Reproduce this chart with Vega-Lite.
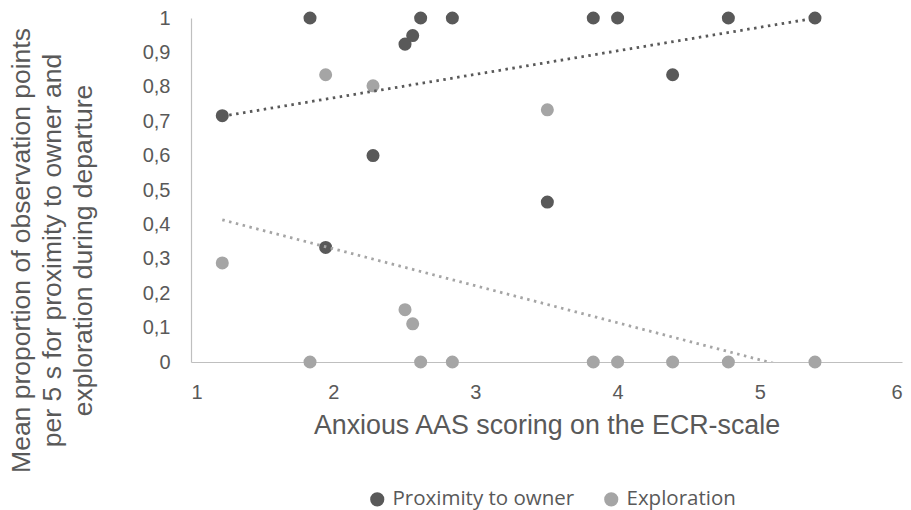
{
  "$schema": "https://vega.github.io/schema/vega-lite/v6.json",
  "width": 711,
  "height": 344,
  "autosize": {"type": "none"},
  "padding": {"left": 191, "top": 18, "right": 9, "bottom": 148},
  "background": "white",
  "config": {"view": {"stroke": null}, "font": "Liberation Sans"},
  "data": {
    "values": [
      {"score": 1.22, "value": 0.716, "series": "Proximity to owner"},
      {"score": 1.837, "value": 1.0, "series": "Proximity to owner"},
      {"score": 1.947, "value": 0.333, "series": "Proximity to owner"},
      {"score": 2.28, "value": 0.6, "series": "Proximity to owner"},
      {"score": 2.505, "value": 0.924, "series": "Proximity to owner"},
      {"score": 2.559, "value": 0.949, "series": "Proximity to owner"},
      {"score": 2.615, "value": 1.0, "series": "Proximity to owner"},
      {"score": 2.838, "value": 1.0, "series": "Proximity to owner"},
      {"score": 3.506, "value": 0.465, "series": "Proximity to owner"},
      {"score": 3.829, "value": 1.0, "series": "Proximity to owner"},
      {"score": 4.0, "value": 1.0, "series": "Proximity to owner"},
      {"score": 4.387, "value": 0.835, "series": "Proximity to owner"},
      {"score": 4.779, "value": 1.0, "series": "Proximity to owner"},
      {"score": 5.388, "value": 1.0, "series": "Proximity to owner"},
      {"score": 1.22, "value": 0.288, "series": "Exploration"},
      {"score": 1.837, "value": 0.0, "series": "Exploration"},
      {"score": 1.947, "value": 0.835, "series": "Exploration"},
      {"score": 2.28, "value": 0.803, "series": "Exploration"},
      {"score": 2.505, "value": 0.152, "series": "Exploration"},
      {"score": 2.559, "value": 0.111, "series": "Exploration"},
      {"score": 2.615, "value": 0.0, "series": "Exploration"},
      {"score": 2.838, "value": 0.0, "series": "Exploration"},
      {"score": 3.506, "value": 0.733, "series": "Exploration"},
      {"score": 3.829, "value": 0.0, "series": "Exploration"},
      {"score": 4.0, "value": 0.0, "series": "Exploration"},
      {"score": 4.387, "value": 0.0, "series": "Exploration"},
      {"score": 4.779, "value": 0.0, "series": "Exploration"},
      {"score": 5.388, "value": 0.0, "series": "Exploration"}
    ]
  },
  "encoding": {
    "x": {
      "field": "score",
      "type": "quantitative",
      "scale": {"domain": [1, 6], "nice": false, "zero": false},
      "axis": {
        "values": [1, 2, 3, 4, 5, 6],
        "title": "Anxious AAS scoring on the ECR-scale",
        "grid": false,
        "ticks": false,
        "domainColor": "#bfbfbf",
        "domainWidth": 1.2,
        "labelFontSize": 20,
        "labelColor": "#595959",
        "labelPadding": 20,
        "titleFontSize": 26.8,
        "titleFontWeight": "normal",
        "titleColor": "#595959",
        "titlePadding": 10
      }
    },
    "y": {
      "field": "value",
      "type": "quantitative",
      "scale": {"domain": [0, 1], "nice": false},
      "axis": {
        "values": [0, 0.1, 0.2, 0.3, 0.4, 0.5, 0.6, 0.7, 0.8, 0.9, 1],
        "labelExpr": "replace(format(datum.value, '.1~f'), '.', ',')",
        "title": ["Mean proportion of observation points", "per 5 s for proximity to owner and", "exploration during departure"],
        "grid": false,
        "ticks": false,
        "domainColor": "#bfbfbf",
        "domainWidth": 1.2,
        "labelFontSize": 20,
        "labelColor": "#595959",
        "labelPadding": 21,
        "titleFontSize": 26.5,
        "titleFontWeight": "normal",
        "titleColor": "#595959",
        "titleLineHeight": 31,
        "titleAngle": -90,
        "titleAlign": "center",
        "titleBaseline": "bottom",
        "titleX": -156,
        "titleY": 232
      }
    }
  },
  "layer": [
    {
      "mark": {"type": "point", "filled": true, "size": 170, "opacity": 1},
      "encoding": {
        "color": {
          "field": "series",
          "type": "nominal",
          "scale": {"domain": ["Proximity to owner", "Exploration"], "range": ["#595959", "#a5a5a5"]},
          "legend": {
            "orient": "none",
            "legendX": 176,
            "legendY": 471,
            "direction": "horizontal",
            "title": null,
            "labelFont": "Open Sans",
            "labelFontSize": 20.5,
            "labelLimit": 400,
            "labelColor": "#595959",
            "symbolType": "circle",
            "symbolSize": 200,
            "symbolStrokeWidth": 0,
            "columnPadding": 26,
            "labelOffset": 5
          }
        }
      }
    },
    {
      "transform": [{"regression": "value", "on": "score", "groupby": ["series"]}],
      "mark": {"type": "line", "clip": true, "strokeDash": [2.5, 4.5], "strokeWidth": 2.8},
      "encoding": {
        "color": {
          "field": "series",
          "type": "nominal",
          "scale": {"domain": ["Proximity to owner", "Exploration"], "range": ["#595959", "#a5a5a5"]},
          "legend": null
        }
      }
    }
  ]
}
